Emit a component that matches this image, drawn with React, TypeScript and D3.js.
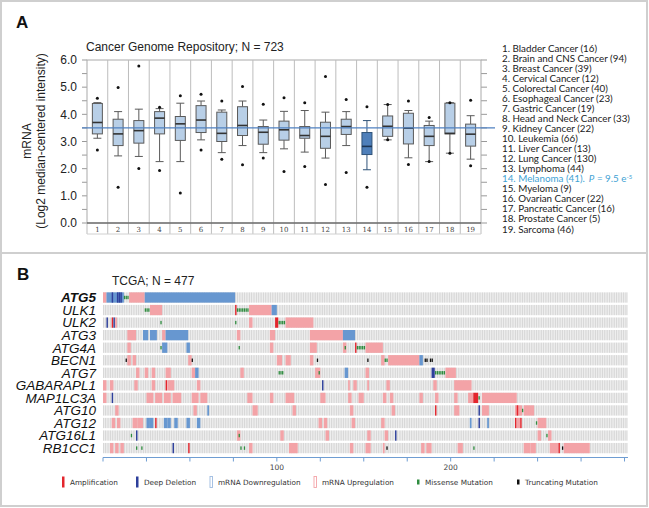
import React from "react";
import * as d3 from "d3";

// ---------- Panel A data ----------
const CANCER_LABELS = [
  "1. Bladder Cancer (16)",
  "2. Brain and CNS Cancer (94)",
  "3. Breast Cancer (39)",
  "4. Cervical Cancer (12)",
  "5. Colorectal Cancer (40)",
  "6. Esophageal Cancer (23)",
  "7. Gastric Cancer (19)",
  "8. Head and Neck Cancer (33)",
  "9. Kidney Cancer (22)",
  "10. Leukemia (66)",
  "11. Liver Cancer (13)",
  "12. Lung Cancer (130)",
  "13. Lymphoma (44)",
  "14. Melanoma (41).",
  "15. Myeloma (9)",
  "16. Ovarian Cancer (22)",
  "17. Pancreatic Cancer (16)",
  "18. Prostate Cancer (5)",
  "19. Sarcoma (46)",
];
const GROUPS = d3.range(1, 20);
const WHISK_LO = [3.12, 2.47, 2.45, 2.26, 2.26, 3.06, 2.59, 2.85, 2.59, 2.73, 2.61, 2.39, 2.85, 1.96, 3.06, 2.4, 2.26, 2.57, 2.35];
const Q1 = [3.28, 2.85, 2.94, 3.28, 3.04, 3.33, 3.0, 3.22, 2.9, 3.05, 3.12, 2.75, 3.26, 2.52, 3.19, 2.91, 2.85, 3.28, 2.83];
const MEDIAN = [3.7, 3.28, 3.4, 3.86, 3.65, 3.79, 3.3, 3.59, 3.34, 3.43, 3.22, 3.19, 3.55, 2.82, 3.56, 3.49, 3.19, 3.3, 3.27];
const Q3 = [4.4, 3.82, 3.77, 4.1, 3.92, 4.32, 4.08, 4.28, 3.55, 3.75, 3.55, 3.71, 3.82, 3.33, 3.94, 4.04, 3.59, 4.41, 3.64];
const WHISK_HI = [4.43, 4.1, 4.19, 4.21, 4.41, 4.49, 4.16, 4.49, 3.79, 4.11, 4.14, 4.08, 4.1, 3.77, 4.36, 4.14, 3.75, 4.43, 3.95];
const OUT_LO = [2.69, 1.32, 2.01, 1.93, 1.1, 2.69, 2.35, 2.14, 2.39, 1.9, 2.08, 1.42, 1.86, 1.32, 3.06, 2.15, 2.26, 2.57, 2.11];
const OUT_HI = [4.59, 4.99, 5.78, 4.26, 4.68, 4.74, 4.49, 5.02, 4.37, 4.61, 4.43, 5.39, 4.55, 4.28, 4.36, 4.49, 3.88, 4.43, 4.52];
const Y_TICKS = [0, 1, 2, 3, 4, 5, 6];
const REF_LINE = 3.5;
const HIGHLIGHT = 14;

// ---------- Panel B data ----------
const GENES = ["ATG5", "ULK1", "ULK2", "ATG3", "ATG4A", "BECN1", "ATG7", "GABARAPL1", "MAP1LC3A", "ATG10", "ATG12", "ATG16L1", "RB1CC1"];
const N_SAMPLES = 302;
const X_TICKS_B = [0, 25, 50, 75, 100, 125, 150, 175, 200, 225, 250, 275, 300];
const X_LABELS_B = [100, 200];

type Ev = [number, number, string];
const ATG5_EV: Ev[] = [[0, 1, "up"], [2, 11, "down"], [5, 5, "del"], [8, 8, "del"], [9, 9, "del"], [10, 10, "del"], [12, 14, "mis"], [15, 23, "up"], [24, 75, "down"]];
const ULK1_EV: Ev[] = [[24, 26, "mis"], [27, 33, "up"], [76, 76, "amp"], [77, 83, "mis"], [84, 96, "up"], [97, 99, "down"]];
const ULK2_EV: Ev[] = [[2, 2, "del"], [5, 5, "amp"], [6, 6, "del"], [7, 7, "up"], [33, 33, "mis"], [76, 76, "mis"], [84, 85, "up"], [99, 100, "amp"], [101, 104, "mis"], [105, 120, "up"]];
const ATG3_EV: Ev[] = [[14, 18, "up"], [23, 25, "down"], [27, 30, "down"], [34, 35, "up"], [36, 48, "down"], [77, 78, "up"], [96, 98, "up"], [119, 137, "up"], [138, 144, "down"]];
const ATG4A_EV: Ev[] = [[14, 15, "up"], [33, 33, "mis"], [34, 36, "down"], [48, 49, "down"], [78, 78, "mis"], [96, 97, "up"], [119, 122, "up"], [138, 139, "up"], [139, 139, "mis"], [145, 145, "amp"], [146, 150, "mis"], [151, 160, "up"]];
const BECN1_EV: Ev[] = [[13, 13, "trunc"], [14, 15, "up"], [17, 18, "up"], [49, 50, "up"], [51, 51, "trunc"], [100, 102, "up"], [105, 107, "up"], [119, 120, "up"], [123, 123, "trunc"], [152, 152, "trunc"], [160, 161, "up"], [162, 163, "mis"], [164, 181, "up"], [182, 183, "down"], [185, 186, "trunc"], [188, 189, "trunc"]];
const ATG7_EV: Ev[] = [[19, 20, "up"], [24, 25, "up"], [28, 29, "up"], [36, 38, "up"], [51, 52, "up"], [53, 54, "down"], [79, 80, "up"], [101, 103, "mis"], [122, 124, "up"], [124, 124, "mis"], [139, 140, "down"], [151, 152, "up"], [189, 190, "del"], [191, 196, "mis"], [197, 202, "up"]];
const GABARAPL1_EV: Ev[] = [[0, 1, "up"], [4, 5, "up"], [18, 19, "up"], [28, 29, "up"], [36, 36, "amp"], [37, 40, "up"], [54, 55, "up"], [126, 126, "del"], [141, 141, "up"], [144, 145, "up"], [152, 152, "up"], [163, 164, "up"], [190, 191, "up"], [202, 211, "up"]];
const MAP1LC3A_EV: Ev[] = [[0, 1, "up"], [5, 5, "del"], [25, 28, "up"], [30, 33, "up"], [35, 38, "up"], [40, 44, "up"], [51, 54, "up"], [56, 59, "up"], [83, 85, "up"], [96, 97, "up"], [105, 109, "up"], [125, 127, "up"], [141, 142, "up"], [147, 149, "up"], [161, 162, "up"], [165, 166, "up"], [182, 183, "up"], [191, 192, "up"], [202, 203, "up"], [210, 212, "up"], [213, 215, "amp"], [216, 216, "mis"], [218, 237, "up"]];
const ATG10_EV: Ev[] = [[7, 8, "up"], [52, 53, "up"], [60, 60, "down"], [86, 88, "up"], [109, 110, "up"], [142, 143, "up"], [166, 167, "up"], [191, 191, "amp"], [202, 204, "up"], [216, 216, "del"], [218, 221, "up"], [237, 240, "up"], [238, 238, "amp"], [241, 241, "mis"], [242, 247, "up"]];
const ATG12_EV: Ev[] = [[5, 6, "up"], [8, 9, "up"], [17, 19, "up"], [20, 22, "up"], [25, 26, "down"], [27, 28, "down"], [30, 30, "amp"], [35, 36, "down"], [37, 38, "down"], [41, 42, "down"], [48, 49, "down"], [54, 55, "down"], [124, 125, "up"], [127, 128, "up"], [143, 144, "up"], [160, 161, "up"], [211, 211, "down"], [216, 216, "del"], [221, 221, "down"], [237, 237, "amp"], [238, 239, "up"], [240, 240, "amp"], [249, 249, "mis"], [250, 254, "up"]];
const ATG16L1_EV: Ev[] = [[16, 16, "mis"], [19, 19, "del"], [77, 78, "up"], [78, 78, "mis"], [102, 103, "up"], [128, 129, "up"], [152, 153, "up"], [162, 163, "up"], [168, 168, "del"], [250, 251, "up"], [255, 255, "mis"], [256, 257, "up"]];
const RB1CC1_EV: Ev[] = [[4, 5, "up"], [7, 8, "up"], [10, 11, "up"], [19, 19, "mis"], [22, 22, "mis"], [40, 40, "del"], [49, 49, "amp"], [79, 79, "mis"], [81, 81, "mis"], [84, 85, "up"], [107, 111, "up"], [142, 143, "up"], [151, 153, "up"], [161, 161, "up"], [163, 163, "trunc"], [183, 184, "up"], [186, 188, "up"], [204, 206, "up"], [213, 213, "mis"], [242, 245, "up"], [246, 248, "up"], [257, 261, "up"], [262, 262, "amp"], [264, 264, "trunc"], [265, 279, "up"]];
const GENE_EVENTS = [ATG5_EV, ULK1_EV, ULK2_EV, ATG3_EV, ATG4A_EV, BECN1_EV, ATG7_EV, GABARAPL1_EV, MAP1LC3A_EV, ATG10_EV, ATG12_EV, ATG16L1_EV, RB1CC1_EV];

const LEGEND_B = [
  { key: "amp", label: "Amplification" },
  { key: "del", label: "Deep Deletion" },
  { key: "downL", label: "mRNA Downregulation" },
  { key: "upL", label: "mRNA Upregulation" },
  { key: "mis", label: "Missense Mutation" },
  { key: "trunc", label: "Truncating Mutation" },
];

const COLORS: Record<string, string> = {
  up: "#f3a3a7",
  down: "#6797d0",
  amp: "#e3262d",
  del: "#2d3f9b",
  mis: "#2f8c3f",
  trunc: "#111111",
};

const SANS = "'Liberation Sans', Arial, sans-serif";

export default function App() {
  // Panel A scales
  const xA = d3.scaleBand<number>().domain(GROUPS).range([87, 481]);
  const yA = d3.scaleLinear().domain([0, 6]).range([223, 60]);
  const bw = xA.bandwidth();
  const boxW = 10;
  const capW = 8;
  const halfTicks = d3.range(0, 6.01, 0.5);

  // Panel B scales
  const xB = d3.scaleLinear().domain([0, N_SAMPLES]).range([103, 628]);
  const yB = d3.scalePoint<string>().domain(GENES).range([297.5, 297.5 + 12 * 12.55]);
  const rowH = 10.3;
  const sw = xB(1) - xB(0);
  const samples = d3.range(N_SAMPLES);
  const legendX = [62, 136, 210, 314, 417, 517];

  const legendLineY = d3.scaleLinear().domain([0, 18]).range([52, 232.5]);

  return (
    <svg width={649} height={508} style={{ position: "absolute", left: 0, top: 0, background: "#fff" }}>
      {/* frames */}
      <rect x={1} y={1} width={646} height={252} fill="none" stroke="#cfcfcf" strokeWidth={2} />
      <rect x={1} y={253} width={646} height={253} fill="none" stroke="#cfcfcf" strokeWidth={2} />

      {/* ---------- Panel A ---------- */}
      <text x={16} y={28} fontFamily={SANS} fontWeight="bold" fontSize={17} fill="#111">A</text>
      <text x={86} y={51} fontFamily={SANS} fontSize={12} fill="#222">Cancer Genome Repository; N = 723</text>

      {/* y axis labels */}
      <g fontFamily={SANS} fontSize={12} fill="#222">
        <text transform={`translate(31,141) rotate(-90)`} textAnchor="middle">mRNA</text>
        <text transform={`translate(45,141) rotate(-90)`} textAnchor="middle">(Log2 median-centered intensity)</text>
      </g>
      {Y_TICKS.map((t) => (
        <text key={t} x={77} y={yA(t) + 4.3} textAnchor="end" fontFamily={SANS} fontSize={12} fill="#222">
          {t.toFixed(1)}
        </text>
      ))}
      {halfTicks.map((t) => (
        <g key={"ht" + t} stroke="#999" strokeWidth={1}>
          <line x1={82} x2={87} y1={yA(t)} y2={yA(t)} />
          <line x1={481} x2={487} y1={yA(t)} y2={yA(t)} />
        </g>
      ))}

      {/* plot frame and column separators */}
      <rect x={87} y={60} width={394} height={163} fill="#fff" stroke="#aaa" strokeWidth={1} />
      {GROUPS.slice(1).map((g) => (
        <line key={"sep" + g} x1={xA(g)!} x2={xA(g)!} y1={60} y2={234} stroke="#bdbdbd" strokeWidth={1} />
      ))}
      <line x1={87} x2={87} y1={223} y2={234} stroke="#bdbdbd" />
      <line x1={481} x2={481} y1={223} y2={234} stroke="#bdbdbd" />
      <line x1={87} x2={481} y1={234} y2={234} stroke="#d0d0d0" />
      <line x1={87} x2={481} y1={223} y2={223} stroke="#444" strokeWidth={1.2} />
      {GROUPS.map((g) => (
        <text key={"xl" + g} x={xA(g)! + bw / 2} y={231.5} textAnchor="middle" fontFamily="'DejaVu Serif', serif" fontSize={7} fill="#444">
          {g}
        </text>
      ))}

      {/* boxes */}
      {GROUPS.map((g, i) => {
        const cx = xA(g)! + bw / 2;
        const hl = g === HIGHLIGHT;
        const stroke = hl ? "#2f5379" : "#5a5a5a";
        return (
          <g key={"box" + g}>
            <line x1={cx} x2={cx} y1={yA(WHISK_HI[i])} y2={yA(Q3[i])} stroke={stroke} strokeWidth={1} />
            <line x1={cx} x2={cx} y1={yA(Q1[i])} y2={yA(WHISK_LO[i])} stroke={stroke} strokeWidth={1} />
            <line x1={cx - capW / 2} x2={cx + capW / 2} y1={yA(WHISK_HI[i])} y2={yA(WHISK_HI[i])} stroke={stroke} />
            <line x1={cx - capW / 2} x2={cx + capW / 2} y1={yA(WHISK_LO[i])} y2={yA(WHISK_LO[i])} stroke={stroke} />
            <rect
              x={cx - boxW / 2}
              y={yA(Q3[i])}
              width={boxW}
              height={yA(Q1[i]) - yA(Q3[i])}
              fill={hl ? "#4e7fba" : "#b8cfe7"}
              stroke={stroke}
              strokeWidth={1}
            />
            <line x1={cx - boxW / 2} x2={cx + boxW / 2} y1={yA(MEDIAN[i])} y2={yA(MEDIAN[i])} stroke={hl ? "#1d3553" : "#333"} strokeWidth={1.6} />
            <circle cx={cx} cy={yA(OUT_HI[i])} r={1.5} fill="#111" />
            <circle cx={cx} cy={yA(OUT_LO[i])} r={1.5} fill="#111" />
          </g>
        );
      })}

      {/* reference line */}
      <line x1={82} x2={495} y1={yA(REF_LINE)} y2={yA(REF_LINE)} stroke="#4f80c0" strokeWidth={1.4} />

      {/* cancer legend */}
      <g fontFamily="Lato, 'Open Sans', sans-serif" fontSize={9.8}>
        {CANCER_LABELS.map((lab, i) => (
          <text key={"cl" + i} x={502} y={legendLineY(i)} fill={i + 1 === HIGHLIGHT ? "#3ea2d4" : "#222"}>
            {lab}
            {i + 1 === HIGHLIGHT ? (
              <>
                <tspan dx={4} fontStyle="italic">P</tspan>
                <tspan> = 9.5 e</tspan>
                <tspan dy={-3.5} fontSize={6}>-5</tspan>
              </>
            ) : null}
          </text>
        ))}
      </g>

      {/* ---------- Panel B ---------- */}
      <text x={17} y={280} fontFamily={SANS} fontWeight="bold" fontSize={17} fill="#111">B</text>
      <text x={112} y={285} fontFamily={SANS} fontSize={12} fill="#222">TCGA; N = 477</text>

      {GENES.map((gene, gi) => {
        const cy = yB(gene)!;
        return (
          <g key={gene}>
            <text
              x={96}
              y={cy + 4.8}
              textAnchor="end"
              fontFamily={SANS}
              fontStyle="italic"
              fontWeight={gi === 0 ? "bold" : "normal"}
              fontSize={13.5}
              fill="#111"
            >
              {gene}
            </text>
            {samples.map((s) => (
              <rect key={s} x={xB(s)} y={cy - rowH / 2} width={sw * 0.72} height={rowH} fill="#d8d8d8" />
            ))}
            {GENE_EVENTS[gi]
              .filter((e) => e[2] === "up" || e[2] === "down")
              .map((e, k) => (
                <rect key={"m" + k} x={xB(e[0])} y={cy - rowH / 2} width={xB(e[1] + 1) - xB(e[0])} height={rowH} fill={COLORS[e[2]]} />
              ))}
            {GENE_EVENTS[gi]
              .filter((e) => e[2] === "amp" || e[2] === "del")
              .map((e, k) => (
                <rect key={"c" + k} x={xB(e[0])} y={cy - rowH / 2} width={xB(e[1] + 1) - xB(e[0]) - 0.3} height={rowH} fill={COLORS[e[2]]} />
              ))}
            {GENE_EVENTS[gi]
              .filter((e) => e[2] === "mis" || e[2] === "trunc")
              .flatMap((e) => d3.range(e[0], e[1] + 1).map((s) => [s, e[2]] as [number, string]))
              .map(([s, t], k) => (
                <rect key={"u" + k} x={xB(s)} y={cy - rowH / 6} width={sw * 0.75} height={rowH / 3} fill={COLORS[t]} />
              ))}
          </g>
        );
      })}

      {/* sample axis */}
      <line x1={xB(0)} x2={xB(N_SAMPLES)} y1={457.5} y2={457.5} stroke="#6f9dd2" strokeWidth={1.2} />
      {X_TICKS_B.map((t) => (
        <line key={"bt" + t} x1={xB(t)} x2={xB(t)} y1={457.5} y2={461.5} stroke="#6f9dd2" strokeWidth={1} />
      ))}
      {X_LABELS_B.map((t) => (
        <text key={"bl" + t} x={xB(t)} y={470} textAnchor="middle" fontFamily="'DejaVu Sans', sans-serif" fontSize={7.5} fill="#444">
          {t}
        </text>
      ))}

      {/* legend */}
      {LEGEND_B.map((l, i) => {
        const x = legendX[i];
        const cy = 482;
        let glyph: React.ReactNode;
        if (l.key === "amp" || l.key === "del") {
          glyph = <rect x={x} y={cy - 5.5} width={2.5} height={11} fill={COLORS[l.key]} />;
        } else if (l.key === "downL") {
          glyph = <rect x={x} y={cy - 5.5} width={2.5} height={11} fill="#fff" stroke="#9dbbe0" strokeWidth={0.9} />;
        } else if (l.key === "upL") {
          glyph = <rect x={x} y={cy - 5.5} width={2.5} height={11} fill="#fff" stroke="#f3a3a7" strokeWidth={0.9} />;
        } else {
          glyph = <rect x={x} y={cy - 2.5} width={2.5} height={5} fill={COLORS[l.key]} />;
        }
        return (
          <g key={l.key}>
            {glyph}
            <text x={x + 8} y={cy + 2.8} fontFamily="'DejaVu Sans', sans-serif" fontSize={7.3} fill="#333">
              {l.label}
            </text>
          </g>
        );
      })}
    </svg>
  );
}
